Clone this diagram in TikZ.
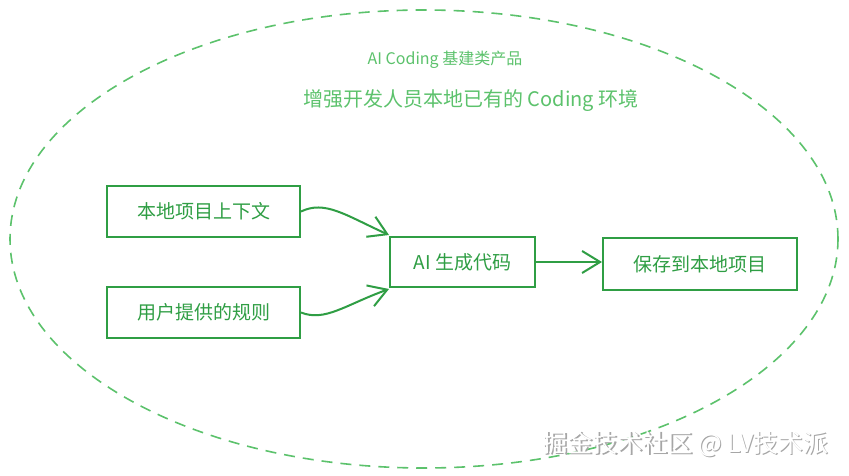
\documentclass[tikz,border=0pt]{standalone}
\usepackage{fontspec}
\setmainfont{Noto Sans CJK SC}
\usetikzlibrary{arrows.meta,shapes.geometric}
\definecolor{boxgreen}{HTML}{2F9E44}
\definecolor{lightgreen}{HTML}{5CC26C}
\tikzset{
  box/.style={draw=boxgreen, line width=2pt, minimum height=51pt, text=boxgreen, font=\fontsize{19}{22}\selectfont, inner sep=0pt},
  conn/.style={draw=boxgreen, line width=2pt, -{Straight Barb[length=18pt,width=22pt,line width=2pt]}},
}
\begin{document}
\begin{tikzpicture}[x=1pt,y=-1pt]
\useasboundingbox (0,0) rectangle (849,476);
\fill[white] (0,0) rectangle (849,476);
\node[ellipse, draw=lightgreen, line width=1.6pt, dash pattern=on 11pt off 8pt, minimum width=828pt, minimum height=458pt, inner sep=0pt] (ell) at (424,239) {};
\node[text=lightgreen, font=\fontsize{16}{19}\selectfont] (t1) at (445,60) {\textit{AI Coding} 基建类产品};
\node[text=lightgreen, font=\fontsize{20}{24}\selectfont] (t2) at (471,101) {增强开发人员本地已有的 Coding 环境};
\node[box, minimum width=193pt] (ctx) at (203.5,211.5) {本地项目上下文};
\node[box, minimum width=193pt] (rule) at (203.5,312.5) {用户提供的规则};
\node[box, minimum width=145pt, minimum height=50pt] (ai) at (462.5,262) {\textit{AI} 生成代码};
\node[box, minimum width=194pt, minimum height=52pt] (save) at (700,264) {保存到本地项目};
\draw[conn] (ctx.east) .. controls (325,200) and (345,215) .. ([yshift=27pt]ai.west);
\draw[conn] (rule.east) .. controls (325,322) and (345,305) .. ([yshift=-27pt]ai.west);
\draw[conn] (ai.east) -- (save.west |- ai.east);
\node[text=gray!70, font=\fontsize{25}{28}\selectfont, anchor=east] (wm0) at (833.3,445.3) {掘金技术社区 @ LV技术派};
\node[text=white, font=\fontsize{25}{28}\selectfont, anchor=east] (wm) at (832,444) {掘金技术社区 @ LV技术派};
\end{tikzpicture}
\end{document}
